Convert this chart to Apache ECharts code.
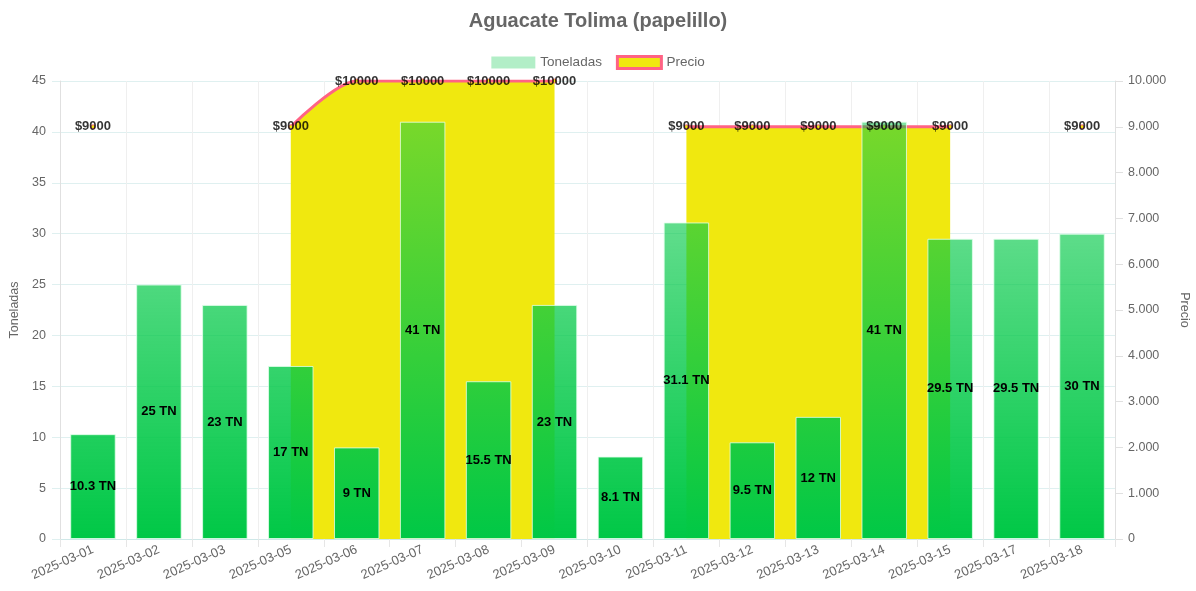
<!DOCTYPE html>
<html>
<head>
<meta charset="utf-8">
<script src="https://cdn.jsdelivr.net/npm/echarts@6/dist/echarts.min.js"></script>
<style>
  html, body { margin: 0; padding: 0; background: #fff; }
  #main { width: 1196px; height: 591px; }
</style>
</head>
<body>
<div id="main"></div>
<script>
var fechas = ["2025-03-01", "2025-03-02", "2025-03-03", "2025-03-05", "2025-03-06", "2025-03-07", "2025-03-08", "2025-03-09",
    "2025-03-10", "2025-03-11", "2025-03-12", "2025-03-13", "2025-03-14", "2025-03-15", "2025-03-17", "2025-03-18"];
var toneladas = [10.3, 25, 23, 17, 9, 41, 15.5, 23, 8.1, 31.1, 9.5, 12, 41, 29.5, 29.5, 30];
var precios = [9000, null, null, 9000, 10000, 10000, 10000, 10000, null, 9000, 9000, 9000, 9000, 9000, null, 9000];

var myChart = echarts.init(document.getElementById("main"));

var gris = "#666";
var fuente = "Liberation Sans, Arial, sans-serif";

// formato 10.000
function miles(v) {
    return String(v).replace(/\B(?=(\d{3})+(?!\d))/g, ".");
}

var option = {
    animation: false,
    textStyle: { fontFamily: fuente },
    title: {
        text: "Aguacate Tolima (papelillo)",
        left: "center",
        top: 6,
        textStyle: { fontSize: 20, fontWeight: "bold", color: gris, fontFamily: fuente },
    },
    legend: {
        top: 50,
        left: "center",
        itemWidth: 44,
        itemHeight: 12,
        itemGap: 14,
        textStyle: { color: gris, fontSize: 13.5 },
        data: [
            { name: "Toneladas", icon: "rect", itemStyle: { color: "rgba(0,200,70,0.3)", borderWidth: 0 } },
            { name: "Precio", icon: "rect", itemStyle: { color: "#f0e80f", borderColor: "#ff6384", borderWidth: 3 } },
        ],
    },
    grid: {
        left: 60,
        right: 81,
        top: 81,
        bottom: 52,
        containLabel: false,
        outerBoundsMode: "none",
    },
    xAxis: {
        type: "category",
        data: fechas,
        boundaryGap: true,
        axisLine: { lineStyle: { color: "#cfe8e8" } },
        axisTick: { show: true, interval: 0, length: 8, lineStyle: { color: "#e6e6e6" } },
        axisLabel: { interval: 0, rotate: 24, color: gris, fontSize: 13, margin: 10 },
        splitLine: { show: true, interval: 0, lineStyle: { color: "#efefef" } },
    },
    yAxis: [
        {
            type: "value",
            min: 0,
            max: 45,
            interval: 5,
            name: "Toneladas",
            nameLocation: "middle",
            nameGap: 38,
            nameTextStyle: { color: gris, fontSize: 12.5 },
            axisLine: { show: true, lineStyle: { color: "#e0e0e0" } },
            axisTick: { show: true, length: 8, lineStyle: { color: "#dff0f0" } },
            axisLabel: { color: gris, fontSize: 12.5, margin: 14 },
            splitLine: { show: true, lineStyle: { color: "#dff0f0" } },
        },
        {
            type: "value",
            min: 0,
            max: 10000,
            interval: 1000,
            name: "Precio",
            nameLocation: "middle",
            nameRotate: -90,
            nameGap: 63,
            nameTextStyle: { color: gris, fontSize: 12.5 },
            axisLine: { show: true, lineStyle: { color: "#e0e0e0" } },
            axisTick: { show: true, length: 8, lineStyle: { color: "#e0e0e0" } },
            axisLabel: { color: gris, fontSize: 12.5, margin: 13, formatter: miles },
            splitLine: { show: false },
        },
    ],
    series: [
        {
            name: "Precio",
            type: "line",
            yAxisIndex: 1,
            data: precios,
            z: 1,
            smooth: 0.3,
            smoothMonotone: "x",
            symbol: "circle",
            symbolSize: 4,
            showSymbol: true,
            itemStyle: { color: "#f0e80f", borderColor: "#ff6384", borderWidth: 1 },
            lineStyle: { color: "#ff6384", width: 3 },
            areaStyle: { color: "#f0e80f", opacity: 1 },
        },
        {
            name: "Toneladas",
            type: "bar",
            yAxisIndex: 0,
            data: toneladas,
            z: 3,
            barWidth: "69%",
            itemStyle: {
                color: {
                    type: "linear",
                    x: 0, y: 81, x2: 0, y2: 539,
                    global: true,
                    colorStops: [
                        { offset: 0, color: "rgba(0,200,70,0.45)" },
                        { offset: 1, color: "rgba(0,200,70,1)" },
                    ],
                },
                borderColor: "rgba(225,255,235,0.8)",
                borderWidth: 1,
            },
            label: {
                show: true,
                position: "inside",
                color: "#000",
                fontWeight: "bold",
                fontSize: 13,
                formatter: function (p) { return p.value + " TN"; },
            },
        },
        {
            // solo las etiquetas del precio, encima de las barras
            name: "PrecioEtiquetas",
            type: "scatter",
            yAxisIndex: 1,
            data: precios,
            z: 5,
            symbolSize: 1,
            itemStyle: { color: "transparent" },
            silent: true,
            label: {
                show: true,
                position: "inside",
                color: "#000",
                fontWeight: "bold",
                fontSize: 13,
                formatter: function (p) { return "$" + p.value; },
            },
        },
    ],
};

myChart.setOption(option);
</script>
</body>
</html>
